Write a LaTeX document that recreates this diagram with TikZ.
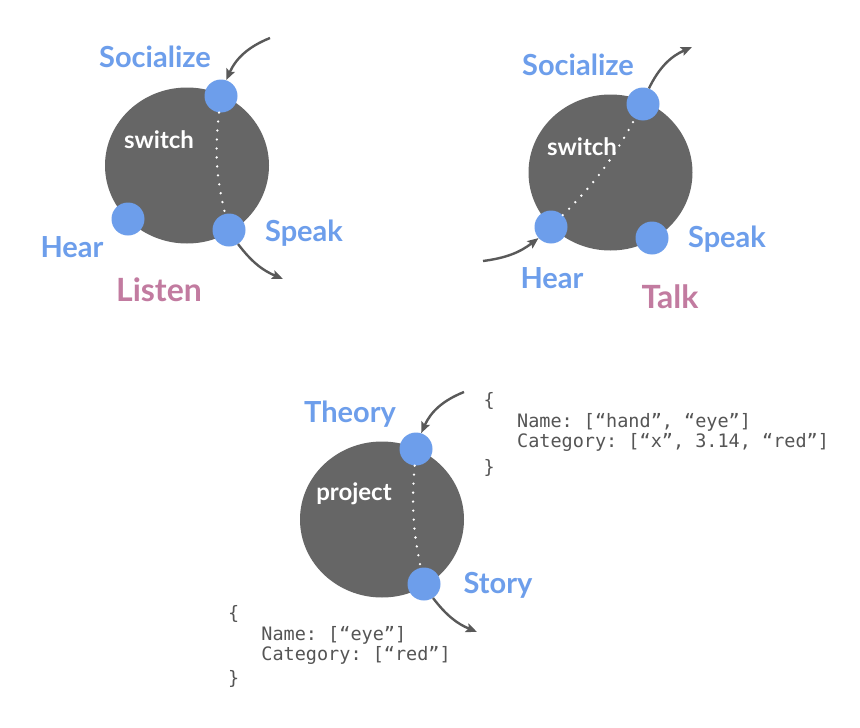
\documentclass[tikz,border=0pt]{standalone}
\usepackage{fontspec}
\setmainfont{Lato}
\setmonofont{DejaVu Sans Mono}
\usetikzlibrary{shapes.geometric,arrows.meta}
\definecolor{dotblue}{HTML}{6D9EEB}
\definecolor{ballgray}{HTML}{666666}
\definecolor{arrgray}{HTML}{595959}
\definecolor{mauve}{HTML}{C27BA0}
\definecolor{codegray}{HTML}{555555}
\tikzset{
  ball/.style={ellipse,fill=ballgray,minimum width=164pt,minimum height=156pt,inner sep=0pt},
  port/.style={circle,fill=dotblue,minimum size=33pt,inner sep=0pt},
  lbl/.style={text=dotblue,font=\fontsize{29}{33}\selectfont\bfseries,anchor=base,inner sep=0pt},
  title/.style={text=mauve,font=\fontsize{32}{36}\selectfont\bfseries,anchor=base,inner sep=0pt},
  inner/.style={text=white,font=\fontsize{24}{28}\selectfont\bfseries,anchor=base,inner sep=0pt},
  arr/.style={draw=arrgray,line width=2.4pt,-{Stealth[length=11pt,width=9pt,inset=2pt]}},
  dotline/.style={draw=white,line width=2.6pt,line cap=round,dash pattern=on 0pt off 9pt},
  code/.style={text=codegray,font=\fontsize{18.5}{20.5}\selectfont\ttfamily,align=left,anchor=base west,inner sep=0pt}
}
\begin{document}
\begin{tikzpicture}[x=1pt,y=-1pt]
\useasboundingbox[fill=white] (0,0) rectangle (860,728);

% ---------- Listen ----------
\node[ball] (c1) at (187,165.5) {};
\node[port] (c1s) at (221,96) {};
\node[port] (c1h) at (128,219) {};
\node[port] (c1k) at (229,230) {};
\draw[dotline] (c1s) to[bend right=10] (c1k);
\coordinate (c1in) at (270,38);
\coordinate (c1out) at (283,279);
\draw[arr] (c1in) to[bend right=22] (c1s);
\draw[arr] (c1k) to[bend right=15] (c1out);
\node[lbl] (l1s) at (155,67) {Socialize};
\node[inner] (l1w) at (159,148) {switch};
\node[lbl] (l1h) at (72,257) {Hear};
\node[lbl] (l1k) at (304,241) {Speak};
\node[title] (l1t) at (159,301) {Listen};

% ---------- Talk ----------
\node[ball] (c2) at (610.5,172.5) {};
\node[port] (c2s) at (643,104) {};
\node[port] (c2h) at (551,227) {};
\node[port] (c2k) at (652,238) {};
\draw[dotline] (c2h) to[bend right=8] (c2s);
\coordinate (c2in) at (483,261);
\coordinate (c2out) at (692,47);
\draw[arr] (c2in) to[bend right=15] (c2h);
\draw[arr] (c2s) to[bend left=20] (c2out);
\node[lbl] (l2s) at (578,75) {Socialize};
\node[inner] (l2w) at (582,155) {switch};
\node[lbl] (l2h) at (552,288) {Hear};
\node[lbl] (l2k) at (727,247) {Speak};
\node[title] (l2t) at (670,308) {Talk};

% ---------- project ----------
\node[ball] (c3) at (382,519.5) {};
\node[port] (c3t) at (416,449) {};
\node[port] (c3s) at (424,584) {};
\draw[dotline] (c3t) to[bend right=8] (c3s);
\coordinate (c3in) at (464,392);
\coordinate (c3out) at (477,632);
\draw[arr] (c3in) to[bend right=22] (c3t);
\draw[arr] (c3s) to[bend right=15] (c3out);
\node[lbl] (l3t) at (350,422) {Theory};
\node[inner] (l3w) at (354,500.7) {project};
\node[lbl] (l3s) at (498,593) {Story};

\node[code] (code1) at (483.5,473) {\{\\[0.5pt]\phantom{xxx}Name: [“hand”, “eye”]\\\phantom{xxx}Category: [“x”, 3.14, “red”]\\[5pt]\}};
\node[code] (code2) at (227.8,684.5) {\{\\[0.5pt]\phantom{xxx}Name: [“eye”]\\\phantom{xxx}Category: [“red”]\\[3.5pt]\}};
\end{tikzpicture}
\end{document}
